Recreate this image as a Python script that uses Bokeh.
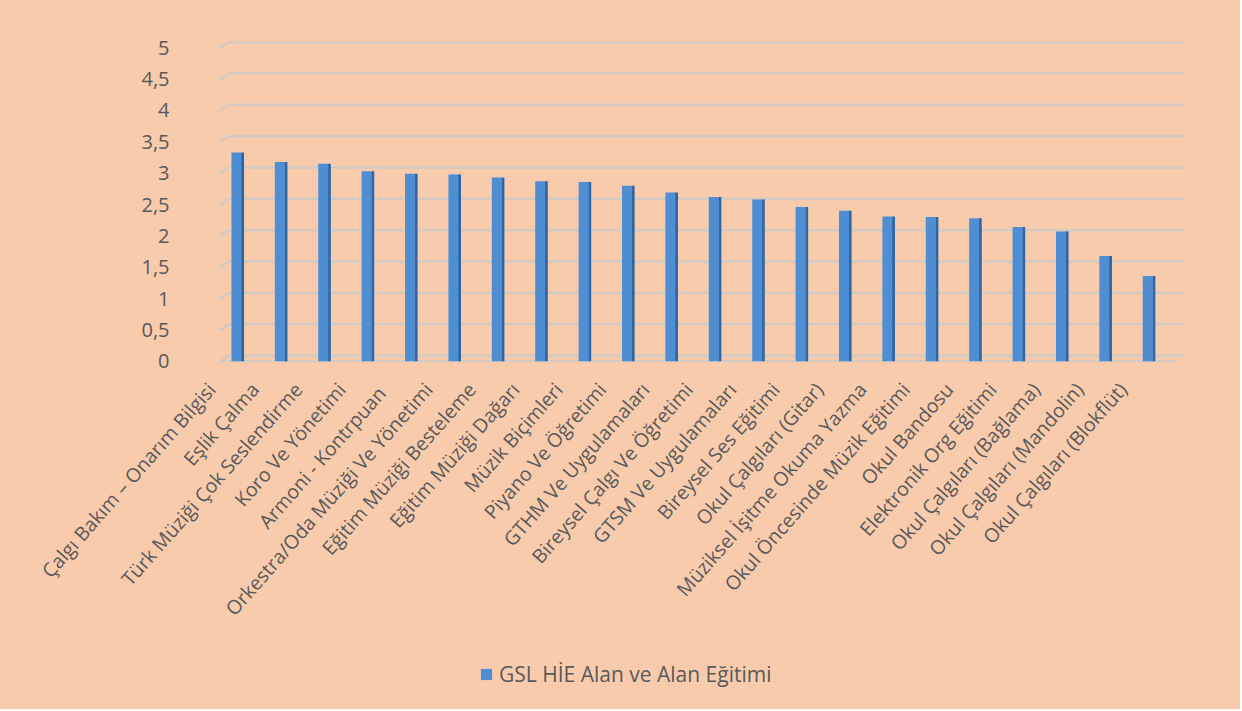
from bokeh.plotting import figure
from bokeh.layouts import column
from bokeh.models import Range1d, FixedTicker, Legend, LegendItem, ColumnDataSource
from bokeh.embed import file_html
from bokeh.resources import INLINE

categories = [
    "Çalgı Bakım – Onarım Bilgisi", "Eşlik Çalma", "Türk Müziği Çok Seslendirme",
    "Koro Ve Yönetimi", "Armoni -  Kontrpuan", "Orkestra/Oda Müziği Ve Yönetimi",
    "Eğitim Müziği Besteleme", "Eğitim Müziği Dağarı", "Müzik Biçimleri",
    "Piyano Ve Öğretimi", "GTHM Ve Uygulamaları", "Bireysel Çalgı Ve Öğretimi",
    "GTSM Ve Uygulamaları", "Bireysel Ses Eğitimi", "Okul Çalgıları (Gitar)",
    "Müziksel İşitme Okuma Yazma", "Okul Öncesinde Müzik Eğitimi", "Okul Bandosu",
    "Elektronik Org Eğitimi", "Okul Çalgıları (Bağlama)", "Okul Çalgıları (Mandolin)",
    "Okul Çalgıları (Blokflüt)",
]
values = [3.33, 3.18, 3.15, 3.03, 2.99, 2.98, 2.93, 2.87, 2.86, 2.80, 2.69,
          2.62, 2.58, 2.46, 2.40, 2.31, 2.30, 2.28, 2.14, 2.07, 1.68, 1.36]
y_ticks = [0, 0.5, 1, 1.5, 2, 2.5, 3, 3.5, 4, 4.5, 5]
y_tick_labels = ["0", "0,5", "1", "1,5", "2", "2,5", "3", "3,5", "4", "4,5", "5"]
series_name = "GSL HİE Alan ve Alan Eğitimi"

BG = "#F8CBAD"
TXT = "#595959"
GRID = "#D2CAC3"
FRONT = "#4F8ED3"
SIDE = "#2F65A1"
FONT = "Open Sans"

n = len(categories)
xs = list(range(n))

p = figure(width=1240, height=640, output_backend="svg", toolbar_location=None,
           x_range=Range1d(-0.69, n - 1 + 0.87), y_range=Range1d(-0.02, 5.1),
           min_border_left=206, min_border_right=55, min_border_top=41, min_border_bottom=278)
p.background_fill_color = BG
p.border_fill_color = BG
p.outline_line_color = None
p.xgrid.visible = False
p.ygrid.visible = False

# 3D-like gridlines: back-wall line + slanted left edge
x_front, x_back, x_end = -0.37, -0.18, n - 1 + 0.87
dy = 0.09
for v in y_ticks:
    p.segment(x0=[x_back], y0=[v + dy], x1=[x_end], y1=[v + dy], line_color=GRID, line_width=2.5)
    p.segment(x0=[x_front], y0=[v], x1=[x_back], y1=[v + dy], line_color=GRID, line_width=2.5)
# floor front edge
p.segment(x0=[x_front], y0=[0], x1=[n - 1 + 0.65], y1=[0], line_color=GRID, line_width=2.5)

src = ColumnDataSource(dict(x=xs, xs=[x + 0.14 for x in xs], top=values))
p.vbar(x="xs", top="top", width=0.07, bottom=0, source=src, fill_color=SIDE, line_color=None)
p.vbar(x="x", top="top", width=0.23, bottom=0, source=src, fill_color=FRONT, line_color=None)

tick_pos = [x - 0.58 for x in xs]
p.xaxis.ticker = FixedTicker(ticks=tick_pos)
p.xaxis.major_label_overrides = {t: c for t, c in zip(tick_pos, categories)}
p.xaxis.major_label_orientation = 0.85
p.xaxis.axis_line_color = None
p.xaxis.major_tick_line_color = None
p.xaxis.minor_tick_line_color = None
p.xaxis.major_label_text_font = FONT
p.xaxis.major_label_text_font_size = "19.5px"
p.xaxis.major_label_text_color = TXT
p.xaxis.major_label_standoff = 17

p.yaxis.ticker = FixedTicker(ticks=y_ticks)
p.yaxis.major_label_overrides = {t: l for t, l in zip(y_ticks, y_tick_labels)}
p.yaxis.axis_line_color = None
p.yaxis.major_tick_line_color = None
p.yaxis.minor_tick_line_color = None
p.yaxis.major_label_text_font = FONT
p.yaxis.major_label_text_font_size = "20px"
p.yaxis.major_label_text_color = TXT
p.yaxis.major_label_standoff = 31

# legend strip
lg = figure(width=1240, height=69, output_backend="svg", toolbar_location=None,
            x_range=Range1d(0, 1240), y_range=Range1d(0, 69),
            x_axis_location=None, y_axis_location=None,
            min_border_left=206, min_border_right=55, min_border_top=0, min_border_bottom=0)
lg.background_fill_color = BG
lg.border_fill_color = BG
lg.outline_line_color = None
lg.xgrid.visible = False
lg.ygrid.visible = False
lg.extra_y_ranges = {"hidden": Range1d(100, 101)}
proxy = lg.vbar(x="x", top="top", width=0.23, bottom=0, source=src, y_range_name="hidden",
                fill_color=FRONT, line_color=None)
legend = Legend(items=[LegendItem(label=series_name, renderers=[proxy])],
                location=(273, 21), orientation="horizontal",
                background_fill_alpha=0, border_line_color=None,
                label_text_font=FONT, label_text_font_size="21px", label_text_color=TXT,
                glyph_width=14, glyph_height=14, padding=0, margin=0, spacing=0,
                label_standoff=6)
lg.add_layout(legend, "center")

layout = column(p, lg, spacing=0, styles={"background-color": BG})
open("out.html", "w").write(file_html(layout, INLINE))
